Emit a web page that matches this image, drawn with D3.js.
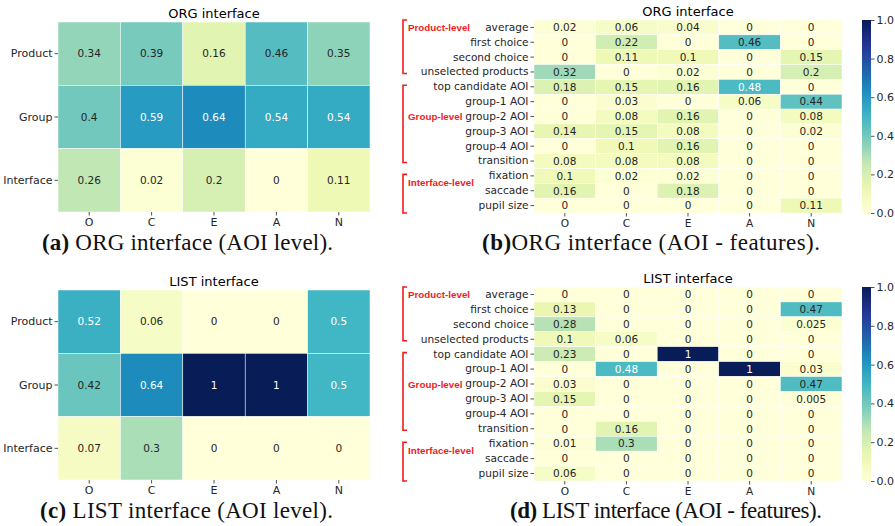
<!DOCTYPE html>
<html>
<head>
<meta charset="utf-8">
<script src="https://cdn.jsdelivr.net/npm/d3@7"></script>
<style>
  body { margin: 0; background: #fff; }
</style>
</head>
<body>
<svg id="fig" width="895" height="526"></svg>
<script>
// Big Five traits on the x axis of every panel.
const traits = ["O", "C", "E", "A", "N"];

const aoiLevels = ["Product", "Group", "Interface"];

const featureRows = [
  "average", "first choice", "second choice", "unselected products",
  "top candidate AOI", "group-1 AOI", "group-2 AOI", "group-3 AOI",
  "group-4 AOI", "transition", "fixation", "saccade", "pupil size",
];

// rows x traits (O, C, E, A, N)
const orgLevel = [
  [0.34, 0.39, 0.16, 0.46, 0.35],
  [0.4,  0.59, 0.64, 0.54, 0.54],
  [0.26, 0.02, 0.2,  0,    0.11],
];

const listLevel = [
  [0.52, 0.06, 0, 0, 0.5],
  [0.42, 0.64, 1, 1, 0.5],
  [0.07, 0.3,  0, 0, 0],
];

const orgFeatures = [
  [0.02, 0.06, 0.04, 0,    0],
  [0,    0.22, 0,    0.46, 0],
  [0,    0.11, 0.1,  0,    0.15],
  [0.32, 0,    0.02, 0,    0.2],
  [0.18, 0.15, 0.16, 0.48, 0],
  [0,    0.03, 0,    0.06, 0.44],
  [0,    0.08, 0.16, 0,    0.08],
  [0.14, 0.15, 0.08, 0,    0.02],
  [0,    0.1,  0.16, 0,    0],
  [0.08, 0.08, 0.08, 0,    0],
  [0.1,  0.02, 0.02, 0,    0],
  [0.16, 0,    0.18, 0,    0],
  [0,    0,    0,    0,    0.11],
];

const listFeatures = [
  [0,    0,    0, 0, 0],
  [0.13, 0,    0, 0, 0.47],
  [0.28, 0,    0, 0, 0.025],
  [0.1,  0.06, 0, 0, 0],
  [0.23, 0,    1, 0, 0],
  [0,    0.48, 0, 1, 0.03],
  [0.03, 0,    0, 0, 0.47],
  [0.15, 0,    0, 0, 0.005],
  [0,    0,    0, 0, 0],
  [0,    0.16, 0, 0, 0],
  [0.01, 0.3,  0, 0, 0],
  [0,    0,    0, 0, 0],
  [0.06, 0,    0, 0, 0],
];

const colorTicks = [0, 0.2, 0.4, 0.6, 0.8, 1.0];

// Feature groups marked with red brackets, by first/last row index.
const featureGroups = [
  { name: "Product-level",   first: 0,  last: 3 },
  { name: "Group-level",     first: 4,  last: 9 },
  { name: "Interface-level", first: 10, last: 12 },
];
// where each group label sits, in row units from the top of the map
const groupLabelRow = [0.5, 6.5, 10.95];

const SANS = "DejaVu Sans, sans-serif";
const SERIF = "Liberation Serif, Times New Roman, serif";
const INK = "#262626";

const svg = d3.select("#fig");

// Matplotlib's YlGnBu is a linear segmented map over the 9 ColorBrewer stops.
const color = d3.scaleLinear()
  .domain(d3.range(9).map(i => i / 8))
  .range(d3.schemeYlGnBu[9])
  .interpolate(d3.interpolateRgb)
  .clamp(true);

// seaborn picks white text on dark cells using relative luminance.
function luminance(c) {
  const { r, g, b } = d3.rgb(c);
  const f = v => {
    v /= 255;
    return v <= 0.03928 ? v / 12.92 : Math.pow((v + 0.055) / 1.055, 2.4);
  };
  return 0.2126 * f(r) + 0.7152 * f(g) + 0.0722 * f(b);
}

function heatmap(box, rows, values, title, opts) {
  const x = d3.scaleBand().domain(traits).range([box.x0, box.x1]);
  const y = d3.scaleBand().domain(rows).range([box.y0, box.y1]);
  const g = svg.append("g");

  rows.forEach((row, i) => {
    traits.forEach((t, j) => {
      const v = values[i][j];
      const fill = color(v);
      g.append("rect")
        .attr("x", x(t)).attr("y", y(row))
        .attr("width", x.bandwidth()).attr("height", y.bandwidth())
        .attr("fill", fill)
        .attr("stroke", "#fff")
        .attr("stroke-width", 0.5);
      g.append("text")
        .attr("x", x(t) + x.bandwidth() / 2)
        .attr("y", y(row) + y.bandwidth() / 2)
        .attr("dy", "0.36em")
        .attr("text-anchor", "middle")
        .attr("font-family", SANS)
        .attr("font-size", opts.annoSize)
        .attr("fill", luminance(fill) < 0.408 ? "#fff" : INK)
        .text(String(v));
    });
  });

  const xAxis = g.append("g")
    .attr("transform", `translate(0,${box.y1})`)
    .call(d3.axisBottom(x).tickSize(3.5).tickPadding(3));
  const yAxis = g.append("g")
    .attr("transform", `translate(${box.x0},0)`)
    .call(d3.axisLeft(y).tickSize(3.5).tickPadding(2));
  [xAxis, yAxis].forEach(ax => {
    ax.select(".domain").remove();
    ax.selectAll("line").attr("stroke", INK).attr("stroke-width", 0.8);
    ax.selectAll("text")
      .attr("fill", INK)
      .attr("font-family", SANS)
      .attr("font-size", opts.labelSize);
  });

  g.append("text")
    .attr("x", (box.x0 + box.x1) / 2)
    .attr("y", box.y0 - 4.5)
    .attr("text-anchor", "middle")
    .attr("font-family", SANS)
    .attr("font-size", 13)
    .attr("fill", "#000")
    .text(title);

  return { x, y };
}

function colorbar(x0, y0, y1, id) {
  const grad = svg.append("defs").append("linearGradient")
    .attr("id", id)
    .attr("x1", 0).attr("y1", 1).attr("x2", 0).attr("y2", 0);
  d3.range(0, 1.0001, 0.05).forEach(t => {
    grad.append("stop").attr("offset", t).attr("stop-color", color(t));
  });
  svg.append("rect")
    .attr("x", x0).attr("y", y0)
    .attr("width", 9).attr("height", y1 - y0)
    .attr("fill", `url(#${id})`);
  const s = d3.scaleLinear().domain([0, 1]).range([y1, y0]);
  const ax = svg.append("g")
    .attr("transform", `translate(${x0 + 9},0)`)
    .call(d3.axisRight(s).tickValues(colorTicks).tickFormat(d3.format(".1f"))
      .tickSize(3.5).tickPadding(2));
  ax.select(".domain").remove();
  ax.selectAll("line").attr("stroke", INK).attr("stroke-width", 0.8);
  ax.selectAll("text").attr("fill", INK)
    .attr("font-family", SANS).attr("font-size", 11);
}

function groupBrackets(y, rows) {
  const bw = y.bandwidth();
  const bx = 403;
  featureGroups.forEach((grp, k) => {
    const top = grp.first === 0 ? y(rows[0]) : y(rows[grp.first]) + 0.4 * bw;
    const bottom = grp.last === rows.length - 1
      ? y(rows[grp.last]) + bw
      : y(rows[grp.last]) + 0.6 * bw;
    svg.append("path")
      .attr("d", `M${bx + 4},${top}H${bx}V${bottom}H${bx + 4}`)
      .attr("fill", "none")
      .attr("stroke", "#f01c1c")
      .attr("stroke-width", 1.6);
    svg.append("text")
      .attr("x", bx + 5)
      .attr("y", y(rows[0]) + groupLabelRow[k] * bw)
      .attr("dy", "0.36em")
      .attr("font-family", "Liberation Sans, Arial, sans-serif")
      .attr("font-weight", "bold")
      .attr("font-size", 9.8)
      .attr("fill", "#f01c1c")
      .text(grp.name);
  });
}

function caption(x, y, tag, rest, width) {
  const t = svg.append("text")
    .attr("x", x).attr("y", y)
    .attr("font-family", SERIF)
    .attr("font-size", 23)
    .attr("fill", "#111")
    .attr("textLength", width)
    .attr("lengthAdjust", "spacing");
  t.append("tspan").attr("font-weight", "bold").text(tag);
  t.append("tspan").text(rest);
}

// (a) ORG, AOI level
heatmap({ x0: 58, x1: 370, y0: 22, y1: 212 }, aoiLevels, orgLevel,
  "ORG interface", { annoSize: 10.5, labelSize: 11 });
caption(42, 250, "(a)", " ORG interface (AOI level).", 291);

// (c) LIST, AOI level
heatmap({ x0: 58, x1: 370, y0: 290, y1: 480 }, aoiLevels, listLevel,
  "LIST interface", { annoSize: 10.5, labelSize: 11 });
caption(40, 518, "(c)", " LIST interface (AOI level).", 293);

// (b) ORG, features
const b = heatmap({ x0: 534, x1: 842, y0: 20, y1: 213 }, featureRows, orgFeatures,
  "ORG interface", { annoSize: 10.5, labelSize: 10.6 });
groupBrackets(b.y, featureRows);
colorbar(862, 20, 213, "cb-org");
caption(482, 250, "(b)", "ORG interface (AOI - features).", 338);

// (d) LIST, features
const d = heatmap({ x0: 534, x1: 842, y0: 287, y1: 481 }, featureRows, listFeatures,
  "LIST interface", { annoSize: 10.5, labelSize: 10.6 });
groupBrackets(d.y, featureRows);
colorbar(862, 287, 481, "cb-list");
caption(510, 518, "(d)", " LIST interface (AOI - features).", 312);
</script>
</body>
</html>
